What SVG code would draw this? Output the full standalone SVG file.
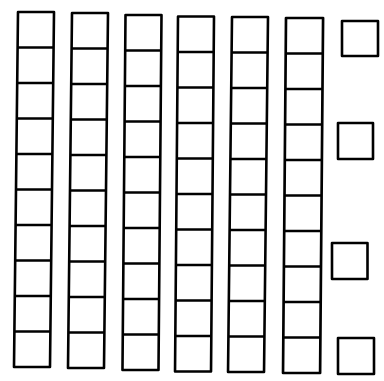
<svg xmlns="http://www.w3.org/2000/svg" width="384" height="381" viewBox="0 0 384 381">
<style>
.b{fill:#fff;stroke:#000;stroke-width:2.6;stroke-linejoin:round}
.d{fill:none;stroke:#000;stroke-width:2.6}
</style>
<rect width="384" height="381" fill="#fff"/>
<defs>
<g id="rod">
<rect class="b" x="0" y="0" width="36" height="355"/>
<path class="d" d="M0 35.5H36M0 71H36M0 106.5H36M0 142H36M0 177.5H36M0 213H36M0 248.5H36M0 284H36M0 319.5H36"/>
</g>
</defs>
<g id="rod1" transform="matrix(1,0,-0.0113,1,18,12)"><use href="#rod"/></g>
<g id="rod2" transform="matrix(1,0,-0.0113,1,72,13)"><use href="#rod"/></g>
<g id="rod3" transform="matrix(1,0,-0.0085,1,125.5,15)"><use href="#rod"/></g>
<g id="rod4" transform="matrix(1,0,-0.0084,1,178,16.5)"><use href="#rod"/></g>
<g id="rod5" transform="matrix(1,0,-0.0112,1,232,17)"><use href="#rod"/></g>
<g id="rod6" transform="matrix(1,0,-0.0084,1,286,18)"><use href="#rod" transform="scale(1.03,1)"/></g>
<g id="unit1"><rect class="b" x="342" y="21" width="36" height="35"/></g>
<g id="unit2"><rect class="b" x="338" y="123" width="35" height="36"/></g>
<g id="unit3"><rect class="b" x="332" y="243" width="35.5" height="36"/></g>
<g id="unit4"><rect class="b" x="338" y="338" width="36" height="36"/></g>
</svg>
